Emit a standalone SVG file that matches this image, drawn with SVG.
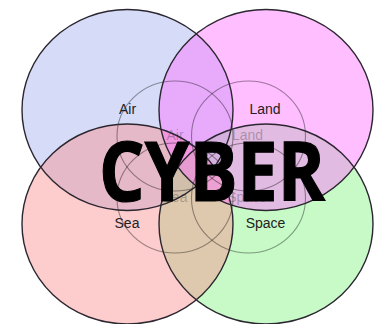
<svg xmlns="http://www.w3.org/2000/svg" width="375" height="324" viewBox="0 0 375 324">
<style>
.f{opacity:0.45}
.o{fill:none;stroke:#2b2630;stroke-width:1.4}
.i{fill:none;stroke:#000;stroke-opacity:0.38;stroke-width:1.1}
.l{font-family:"Liberation Sans",Arial,sans-serif;font-size:14px;fill:#222;text-anchor:middle}
.il{font-family:"Liberation Sans",Arial,sans-serif;font-size:14px;fill:#000;fill-opacity:0.25;text-anchor:middle}
.big{font-family:"Open Sans","Noto Sans",sans-serif;font-weight:bold;font-size:83px;fill:#000;stroke:#000;stroke-width:1.2}
</style>
<rect width="375" height="324" fill="#fff"/>
<g id="fills">
<ellipse class="f" cx="127.5" cy="110" rx="105.5" ry="100.5" fill="#a4b1ef"/>
<ellipse class="f" cx="266" cy="224" rx="107" ry="100" fill="#86f586"/>
<ellipse class="f" cx="127.5" cy="224" rx="105.5" ry="100" fill="#fa8d8d"/>
<ellipse class="f" cx="266" cy="110" rx="107" ry="100.5" fill="#ff6fff"/>
</g>
<g id="inner">
<ellipse class="i" cx="175" cy="136" rx="58" ry="55"/>
<ellipse class="i" cx="248.5" cy="136" rx="57" ry="55"/>
<ellipse class="i" cx="175" cy="198" rx="58" ry="55"/>
<ellipse class="i" cx="248.5" cy="198" rx="57" ry="55"/>
<text class="il" x="175" y="140">Air</text>
<text class="il" x="247.5" y="140">Land</text>
<text class="il" x="175" y="202">Sea</text>
<text class="il" x="247" y="202">Space</text>
</g>
<g id="air"><ellipse class="o" cx="127.5" cy="110" rx="105.5" ry="100.5"/><text class="l" x="127.5" y="114">Air</text></g>
<g id="land"><ellipse class="o" cx="266" cy="110" rx="107" ry="100.5"/><text class="l" x="265" y="114">Land</text></g>
<g id="sea"><ellipse class="o" cx="127.5" cy="224" rx="105.5" ry="100"/><text class="l" x="127" y="228">Sea</text></g>
<g id="space"><ellipse class="o" cx="266" cy="224" rx="107" ry="100"/><text class="l" x="265.5" y="228">Space</text></g>
<g id="cyber"><text class="big" x="99" y="201" textLength="226" lengthAdjust="spacingAndGlyphs">CYBER</text></g>
</svg>
